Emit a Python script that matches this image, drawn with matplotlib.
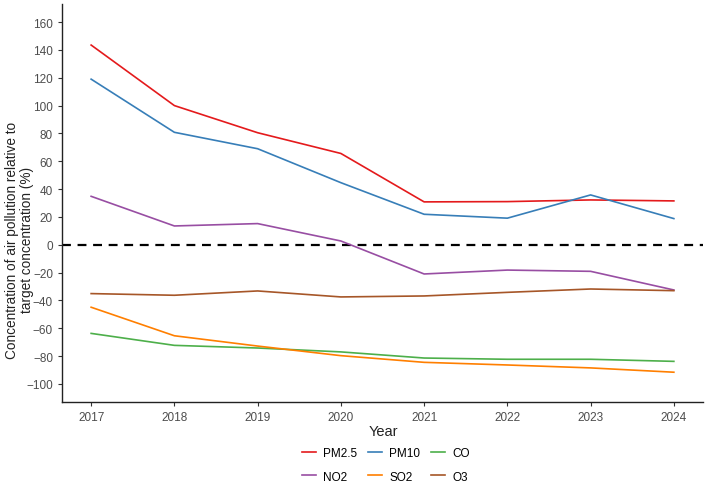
import matplotlib
matplotlib.use("Agg")
import matplotlib.pyplot as plt
from matplotlib.lines import Line2D

# --- datos ---
years = [2017, 2018, 2019, 2020, 2021, 2022, 2023, 2024]
pm25 = [143.5, 100.0, 80.5, 65.6, 30.8, 31.0, 32.2, 31.5]
pm10 = [119.0, 80.8, 69.0, 44.6, 21.9, 19.1, 35.8, 18.8]
co = [-63.7, -72.3, -74.2, -77.0, -81.4, -82.3, -82.3, -83.8]
no2 = [34.8, 13.5, 15.2, 2.7, -21.0, -18.2, -19.1, -32.5]
so2 = [-44.9, -65.4, -72.8, -79.7, -84.5, -86.4, -88.5, -91.6]
o3 = [-35.1, -36.3, -33.2, -37.5, -36.8, -34.2, -31.8, -33.0]

series = {"PM2.5": pm25, "PM10": pm10, "CO": co, "NO2": no2, "SO2": so2, "O3": o3}
colors = {"PM2.5": "#E41A1C", "PM10": "#377EB8", "CO": "#4DAF4A",
          "NO2": "#984EA3", "SO2": "#FF7F00", "O3": "#A65628"}

plt.rcParams["font.family"] = ["Liberation Sans", "DejaVu Sans"]

fig = plt.figure(figsize=(7.08, 4.85), dpi=100)
ax = fig.add_axes([62 / 708, 1 - 403 / 485, 641 / 708, 398 / 485])

ax.axhline(0, color="black", linestyle=(0, (4, 3)), linewidth=1.6, zorder=1)
for name, vals in series.items():
    ax.plot(years, vals, color=colors[name], linewidth=1.2, label=name, zorder=2)

ax.set_xlim(2016.65, 2024.35)
ax.set_ylim(-113, 173)
ax.set_xticks(years)
ax.set_yticks(range(-100, 161, 20))
ax.tick_params(labelsize=8.5, labelcolor="#4d4d4d", length=3, width=0.8, color="#333333")

for s in ["top", "right"]:
    ax.spines[s].set_visible(False)
for s in ["left", "bottom"]:
    ax.spines[s].set_linewidth(1.0)
    ax.spines[s].set_color("#222222")

ax.set_xlabel("Year", fontsize=10.5, color="#222222")
ax.xaxis.set_label_coords((383 - 62) / 641, (403 - 425) / 398)
ax.set_ylabel("Concentration of air pollution relative to\ntarget concentration (%)",
              fontsize=9.8, color="#222222", linespacing=1.1)
ax.yaxis.set_label_coords((34 - 62) / 641, (403 - 240) / 398)

# leyenda en dos filas (orden por filas como ggplot)
order = ["PM2.5", "NO2", "PM10", "SO2", "CO", "O3"]
handles = [Line2D([], [], color=colors[n], linewidth=1.2) for n in order]
fig.legend(handles, order, loc="center", bbox_to_anchor=(386 / 708, 1 - 466 / 485),
           ncol=3, frameon=False, fontsize=8.5, handlelength=1.2, columnspacing=0.9,
           handletextpad=0.6, labelspacing=0.95)

fig.savefig("out.png", dpi=100)
